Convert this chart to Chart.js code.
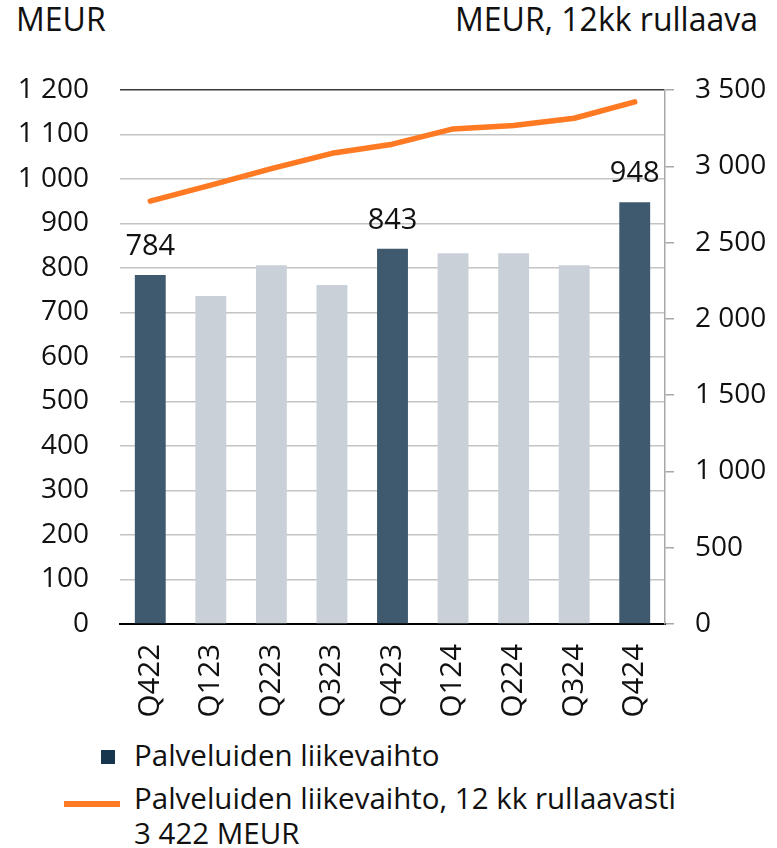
<!DOCTYPE html>
<html lang="fi">
<head>
<meta charset="utf-8">
<script src="https://cdn.jsdelivr.net/npm/chart.js@4.4.1/dist/chart.umd.min.js"></script>
<style>
  html, body { margin: 0; padding: 0; background: #fff; }
  body { width: 777px; height: 848px; position: relative; overflow: hidden;
         font-family: "Open Sans", sans-serif; color: #111; }
  #wrap { position: absolute; left: 0; top: 0; width: 777px; height: 730px; }
  .unit { position: absolute; top: -3px; font-size: 32px; white-space: nowrap; }
  #unitLeft { left: 16px; }
  #unitRight { right: 19px; }
  .lg { position: absolute; white-space: nowrap; font-size: 29.5px; }
  .sq { position: absolute; width: 14px; height: 14px; background: #17364d; }
  .ln { position: absolute; width: 56px; height: 6px; background: #ff7a22; }
</style>
</head>
<body>
<div class="unit" id="unitLeft">MEUR</div>
<div class="unit" id="unitRight">MEUR, 12kk rullaava</div>
<div id="wrap"><canvas id="c"></canvas></div>
<div class="sq" style="left:101px; top:750px;"></div>
<div class="lg" style="left:134px; top:740px; line-height:29.5px;">Palveluiden liikevaihto</div>
<div class="ln" style="left:64px; top:801px;"></div>
<div class="lg" style="left:134px; top:780px; line-height:35px;">Palveluiden liikevaihto, 12 kk rullaavasti<br>3 422 MEUR</div>
<script>
// ── Data ───────────────────────────────────────────────────────────
const quarters = ["Q422", "Q123", "Q223", "Q323", "Q423", "Q124", "Q224", "Q324", "Q424"];
const serviceRevenue = [784, 737, 806, 762, 843, 833, 833, 806, 948];
const rolling12m = [2772, 2877, 2985, 3085, 3145, 3245, 3268, 3315, 3422];
const leftTicks = [0, 1200, 100];   // min, max, step
const rightTicks = [0, 3500, 500];

const DARK = "#3f5a6e";
const LIGHT = "#c9d0d7";
const ORANGE = "#ff7a22";
const FONT = "Open Sans";

// Q4-neljännekset korostetaan ja niille piirretään arvo
const isQ4 = quarters.map((q) => q.startsWith("Q4"));

const fmt = (v) => String(v).replace(/\B(?=(\d{3})+(?!\d))/g, " ");

const barLabels = {
  id: "barLabels",
  afterDatasetsDraw(chart) {
    const { ctx } = chart;
    const meta = chart.getDatasetMeta(1);
    ctx.save();
    ctx.font = `29px "${FONT}"`;
    ctx.fillStyle = "#111";
    ctx.textAlign = "center";
    ctx.textBaseline = "alphabetic";
    meta.data.forEach((bar, i) => {
      if (!isQ4[i]) return;
      ctx.fillText(fmt(serviceRevenue[i]), bar.x, bar.y - 20);
    });
    ctx.restore();
  },
};

new Chart(document.getElementById("c"), {
  type: "bar",
  data: {
    labels: quarters,
    datasets: [
      {
        type: "line",
        label: "Palveluiden liikevaihto, 12 kk rullaavasti",
        data: rolling12m,
        yAxisID: "y1",
        borderColor: ORANGE,
        borderWidth: 5.5,
        pointRadius: 0,
        tension: 0,
        order: 0,
        borderCapStyle: "round",
        borderJoinStyle: "round",
      },
      {
        type: "bar",
        label: "Palveluiden liikevaihto",
        data: serviceRevenue,
        yAxisID: "y",
        backgroundColor: isQ4.map((q) => (q ? DARK : LIGHT)),
        categoryPercentage: 1,
        barPercentage: 0.51,
        order: 1,
      },
    ],
  },
  options: {
    responsive: true,
    maintainAspectRatio: false,
    animation: false,
    layout: { padding: { top: 90, left: 0, right: 0, bottom: 0 } },
    plugins: { legend: { display: false }, tooltip: { enabled: false } },
    scales: {
      x: {
        grid: { display: false, drawTicks: false },
        border: { color: "#000", width: 2 },
        ticks: {
          color: "#111",
          font: { size: 29.5, family: FONT },
          minRotation: 90,
          maxRotation: 90,
          padding: 20,
        },
        afterFit: (s) => { s.height = 106; },
      },
      y: {
        position: "left",
        min: leftTicks[0],
        max: leftTicks[1],
        ticks: {
          stepSize: leftTicks[2],
          color: "#111",
          font: { size: 28, family: FONT },
          padding: 31,
          callback: (v) => fmt(v),
        },
        grid: {
          color: (c) => (c.tick.value === leftTicks[1] ? "#3a3a3a" : "#c4c4c4"),
          lineWidth: 1.5,
          drawTicks: false,
        },
        border: { display: false },
        afterFit: (s) => { s.width = 120; },
      },
      y1: {
        position: "right",
        min: rightTicks[0],
        max: rightTicks[1],
        ticks: {
          stepSize: rightTicks[2],
          color: "#111",
          font: { size: 28, family: FONT },
          padding: 21,
          callback: (v) => fmt(v),
        },
        grid: { drawOnChartArea: false, color: "#a8a8a8", tickLength: 9, lineWidth: 1.5 },
        border: { color: "#a8a8a8", width: 1.5 },
        afterFit: (s) => { s.width = 112; },
      },
    },
  },
  plugins: [barLabels],
});
</script>
</body>
</html>
